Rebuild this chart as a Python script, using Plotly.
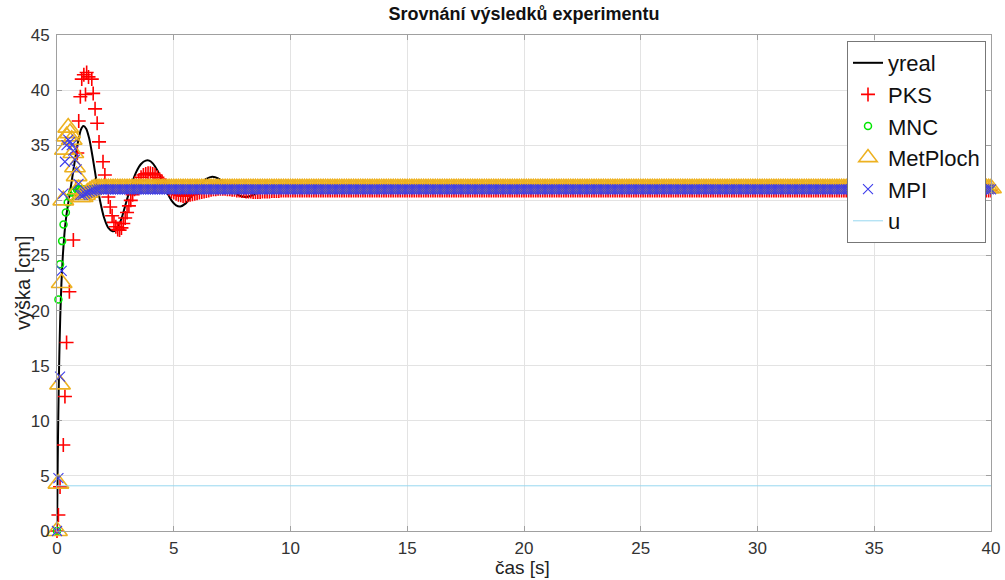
import numpy as np
import plotly.graph_objects as go

# ---------------- data ----------------
# measured output (continuous line)
yreal_t = [0, 0.02, 0.04, 0.07, 0.10, 0.14, 0.19, 0.25, 0.32, 0.40, 0.50, 0.62, 0.75, 0.90, 1.02,
           1.13, 1.25, 1.38, 1.52, 1.68, 1.85, 2.02, 2.20, 2.38, 2.50, 2.62, 2.80, 3.00, 3.20,
           3.40, 3.60, 3.80, 3.95, 4.10, 4.30, 4.50, 4.70, 4.90, 5.10, 5.28, 5.50, 5.80, 6.10,
           6.40, 6.65, 6.90, 7.20, 7.50, 7.80, 8.05, 8.30, 8.60, 9.00, 9.50, 10.0, 11.0, 40.0]
yreal_y = [0, 4.0, 8.0, 12.5, 16.0, 19.5, 22.5, 25.0, 27.0, 28.6, 30.0, 31.6, 33.4, 35.3, 36.4,
           36.75, 36.5, 35.6, 34.0, 31.9, 29.9, 28.4, 27.5, 27.2, 27.25, 27.6, 28.6, 30.1, 31.5,
           32.6, 33.3, 33.6, 33.6, 33.35, 32.7, 31.8, 30.8, 30.0, 29.55, 29.45, 29.7, 30.5, 31.35,
           31.95, 32.15, 32.0, 31.5, 30.9, 30.45, 30.3, 30.4, 30.7, 31.1, 31.25, 31.15, 31.0, 31.0]

# PKS model (red +)
pks_t = [0, 0.06, 0.13, 0.27, 0.34, 0.41, 0.53, 0.70, 0.80, 0.87, 0.93, 1.00, 1.06, 1.15, 1.22,
         1.27, 1.35, 1.49, 1.55, 1.63, 1.72, 1.80, 1.97, 2.05, 2.12, 2.20, 2.28, 2.36, 2.44,
         2.52, 2.60, 2.68, 2.76, 2.84, 2.92, 3.00, 3.08, 3.16, 3.24, 3.32, 3.40, 3.50, 3.60,
         3.70, 3.80, 3.90, 4.00, 4.10, 4.20, 4.30, 4.40, 4.50, 4.60, 4.70, 4.80, 4.90, 5.00,
         5.10, 5.20, 5.30, 5.40, 5.50, 5.60, 5.70, 5.80, 5.90, 6.00, 6.10, 6.20, 6.30, 6.40,
         6.50, 6.60, 6.70, 6.80, 6.90, 7.00, 7.10, 7.20, 7.30, 7.40, 7.50, 7.60, 7.70, 7.80,
         7.90, 8.00, 8.10, 8.20, 8.30, 8.40, 8.50, 8.60, 8.70, 8.80, 8.90, 9.00, 9.10, 9.20,
         9.30, 9.40, 9.50, 9.60, 9.70, 9.80, 9.90, 10.0]
pks_y = [0, 1.45, 4.0, 7.8, 12.2, 17.1, 21.7, 26.4, 31.0, 34.3, 37.2, 39.4, 41.0, 41.4, 39.6,
         41.6, 41.2, 41.0, 39.7, 38.3, 37.0, 35.3, 33.5, 32.3, 31.2, 30.3, 29.4, 28.6, 28.0,
         27.6, 27.35, 27.3, 27.5, 27.9, 28.4, 28.9, 29.5, 30.0, 30.5, 31.0, 31.4, 31.8, 32.1,
         32.3, 32.4, 32.45, 32.45, 32.4, 32.3, 32.1, 31.9, 31.7, 31.4, 31.2, 31.0, 30.8, 30.7,
         30.6, 30.5, 30.45, 30.4, 30.4, 30.45, 30.5, 30.55, 30.6, 30.65, 30.7, 30.75, 30.8, 30.85,
         30.9, 30.95, 31.0, 31.0, 31.05, 31.05, 31.05, 31.05, 31.0, 31.0, 30.95, 30.95, 30.9, 30.9,
         30.85, 30.85, 30.8, 30.8, 30.8, 30.75, 30.75, 30.75, 30.75, 30.8, 30.8, 30.8, 30.8, 30.85,
         30.85, 30.85, 30.85, 30.9, 30.9, 30.9, 30.9, 30.9]
PKS_FINAL = 30.9

# MNC model (green o)
mnc_t = [0, 0.06, 0.13, 0.22, 0.28, 0.38, 0.46, 0.55, 0.65, 0.75]
mnc_y = [0, 21.0, 24.2, 26.3, 27.8, 28.9, 29.8, 30.3, 30.7, 30.9]
MNC_FINAL = 31.0

# MetPloch model (orange triangles)
met_t = [0, 0.06, 0.13, 0.20, 0.27, 0.34, 0.41, 0.48, 0.56, 0.63, 0.70, 0.77, 0.84, 0.92,
         1.00, 1.10, 1.20, 1.30, 1.40, 1.50, 1.60]
met_y = [0, 4.3, 13.3, 22.5, 30.0, 34.6, 35.8, 36.6, 36.1, 35.5, 34.3, 33.0, 32.2, 31.0,
         30.3, 30.3, 30.5, 30.7, 30.85, 31.0, 31.1]
MET_FINAL = 31.1

# MPI model (blue x)
mpi_t = [0, 0.06, 0.13, 0.20, 0.27, 0.34, 0.41, 0.48, 0.56, 0.63, 0.70, 0.77, 0.84, 0.92,
         1.00, 1.10, 1.20, 1.30, 1.40, 1.50, 1.60, 1.70, 1.80]
mpi_y = [0, 4.8, 14.0, 23.6, 30.6, 33.5, 35.0, 35.5, 35.3, 35.0, 34.5, 33.7, 32.8, 31.5,
         30.5, 30.5, 30.6, 30.7, 30.8, 30.85, 30.9, 30.95, 31.0]
MPI_FINAL = 31.0

# input signal
u_t = [0, 40]
u_y = [4.1, 4.1]

T_END = 40.0
SAMPLE = 0.1


def with_tail(t, y, final):
    tail_t = np.round(np.arange(t[-1] + SAMPLE, T_END + 1e-9, SAMPLE), 3)
    return list(t) + list(tail_t), list(y) + [final] * len(tail_t)


pks_T, pks_Y = with_tail(pks_t, pks_y, PKS_FINAL)
mnc_T, mnc_Y = with_tail(mnc_t, mnc_y, MNC_FINAL)
met_T, met_Y = with_tail(met_t, met_y, MET_FINAL)
mpi_T, mpi_Y = with_tail(mpi_t, mpi_y, MPI_FINAL)

FONT = "Liberation Sans, Arial, Helvetica, sans-serif"

fig = go.Figure()
fig.add_trace(go.Scatter(x=yreal_t, y=yreal_y, mode="lines", name="yreal",
                         line=dict(color="black", width=2, shape="spline", smoothing=0.6)))
fig.add_trace(go.Scatter(x=pks_T, y=pks_Y, mode="markers", name="PKS", cliponaxis=False,
                         marker=dict(symbol="cross-thin-open", size=10, color="red",
                                     line=dict(color="red", width=1.6))))
fig.add_trace(go.Scatter(x=mnc_T, y=mnc_Y, mode="markers", name="MNC", cliponaxis=False,
                         marker=dict(symbol="circle-open", size=7, color="rgb(0,230,0)",
                                     line=dict(color="rgb(0,230,0)", width=1.5))))
fig.add_trace(go.Scatter(x=met_T, y=met_Y, mode="markers", name="MetPloch", cliponaxis=False,
                         marker=dict(symbol="triangle-up-open", size=18, color="#EDB120",
                                     line=dict(color="#EDB120", width=1.6))))
fig.add_trace(go.Scatter(x=mpi_T, y=mpi_Y, mode="markers", name="MPI", cliponaxis=False,
                         marker=dict(symbol="x-thin-open", size=10, color="rgb(60,60,235)",
                                     line=dict(color="rgb(60,60,235)", width=1.1))))
fig.add_trace(go.Scatter(x=u_t, y=u_y, mode="lines", name="u",
                         line=dict(color="rgb(150,215,240)", width=1)))

axis_common = dict(
    showgrid=True, gridcolor="#e3e3e3", gridwidth=1,
    showline=True, linecolor="#a0a0a0", linewidth=1, mirror="allticks",
    ticks="inside", ticklen=5, tickcolor="#a0a0a0",
    tickfont=dict(family=FONT, size=17, color="#333333"),
    zeroline=False, automargin=False,
)

fig.update_layout(
    width=1005, height=580,
    margin=dict(l=57, r=14, t=35, b=49, autoexpand=False),
    paper_bgcolor="white", plot_bgcolor="white",
    font=dict(family=FONT, color="#222222"),
    title=dict(text="<b>Srovnání výsledků experimentu</b>", x=0.5, xref="paper", xanchor="center",
               y=1 - 14 / 580, yref="container", yanchor="middle",
               font=dict(family=FONT, size=18, color="#111111")),
    xaxis=dict(range=[0, 40], dtick=5, tick0=0, ticklabelstandoff=2, **axis_common),
    yaxis=dict(range=[0, 45], dtick=5, tick0=0, ticklabelstandoff=3, **axis_common),
    legend=dict(x=(986 - 57) / 934, y=(531 - 41) / 496, xanchor="right", yanchor="top",
                bgcolor="white", bordercolor="#777777", borderwidth=1,
                font=dict(family=FONT, size=22, color="#111111"),
                tracegroupgap=0),
    showlegend=True,
    annotations=[
        dict(text="čas [s]", xref="paper", yref="paper", x=(522 - 57) / 934, y=(531 - 567) / 496,
             xanchor="center", yanchor="middle", showarrow=False,
             font=dict(family=FONT, size=19, color="#222222")),
        dict(text="výška [cm]", xref="paper", yref="paper", x=(23 - 57) / 934, y=0.5,
             xanchor="center", yanchor="middle", showarrow=False, textangle=-90,
             font=dict(family=FONT, size=20, color="#222222")),
    ],
)

fig.write_html("out.html")
